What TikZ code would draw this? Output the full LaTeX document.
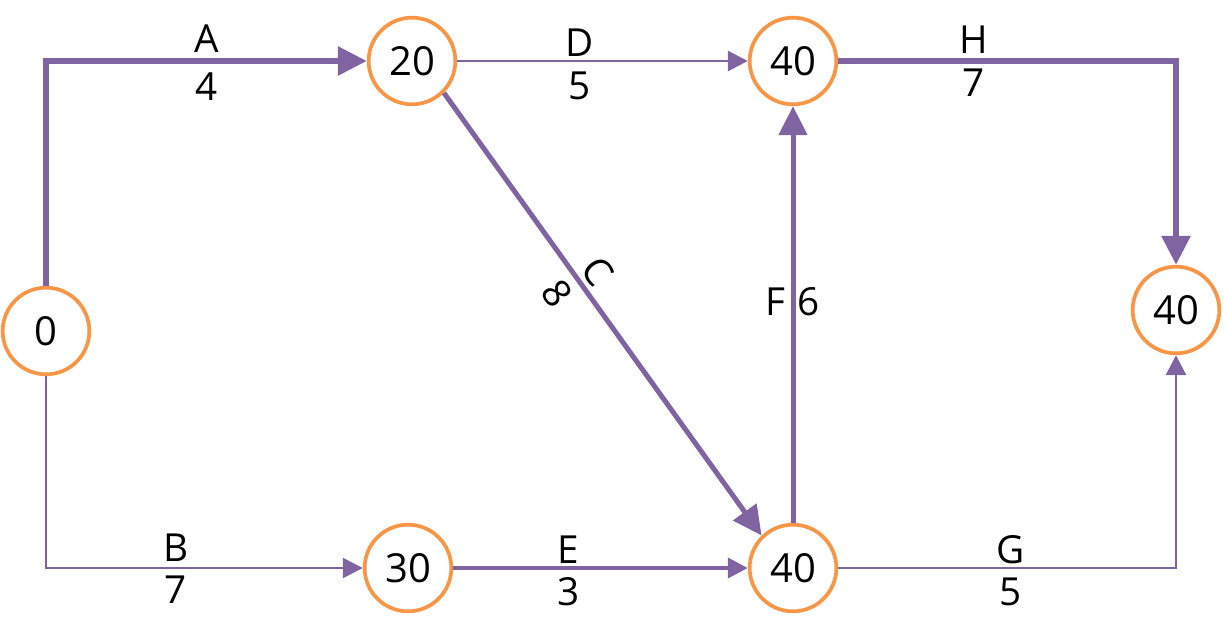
\documentclass[tikz,border=0pt]{standalone}
\usepackage{fontspec}
\setmainfont{Open Sans}
\usetikzlibrary{arrows.meta}
\definecolor{pur}{HTML}{8064A2}
\definecolor{org}{HTML}{F79646}
\begin{document}
\begin{tikzpicture}[x=0.75pt,y=-0.75pt,
  ev/.style={circle,draw=org,line width=2.8pt,fill=white,minimum size=65pt,inner sep=0pt,font=\fontsize{30}{35}\selectfont},
  lbl/.style={font=\fontsize{29}{34}\selectfont,inner sep=0pt},
  bigtip/.style={-{Triangle[length=21.75pt,width=21pt]}},
  smalltip/.style={-{Triangle[length=15pt,width=15pt]}},
  crit/.style={draw=pur,line width=4.5pt,bigtip},
  heavy/.style={draw=pur,line width=3.75pt,bigtip},
  medium/.style={draw=pur,line width=2.8pt,smalltip},
  thin/.style={draw=pur,line width=2.2pt,smalltip},
  hair/.style={draw=pur,line width=1.8pt,smalltip},
]
\useasboundingbox (0,0) rectangle (1225,635);

\node[ev] (s) at (46,331) {0};
\node[ev] (b) at (412,61) {20};
\node[ev] (d) at (793,61) {40};
\node[ev] (e) at (1176,310) {40};
\node[ev] (c) at (408,568) {30};
\node[ev] (f) at (793,568) {40};

\coordinate (ca) at (s.north |- b.west);
\coordinate (ch) at (e.north |- d.east);
\coordinate (cb) at (s.south |- c.west);
\coordinate (cg) at (e.south |- f.east);

% A
\draw[crit] (s) -- (ca) -- node[lbl,yshift=16.5pt]{A} node[lbl,yshift=-19pt]{4} (b);
% D
\draw[thin] (b) -- node[pos=0.42,lbl,yshift=14pt]{D} node[pos=0.42,lbl,yshift=-19pt]{5} (d);
% H
\draw[crit] (d) -- node[pos=0.40,lbl,yshift=16pt]{H} node[pos=0.40,lbl,yshift=-16.5pt]{7} (ch) -- (e);
% B
\draw[hair] (s) -- (cb) -- node[pos=0.41,lbl,yshift=15pt]{B} node[pos=0.41,lbl,yshift=-16.5pt]{7} (c);
% E
\draw[medium] (c) -- node[pos=0.39,lbl,yshift=14pt]{E} node[pos=0.39,lbl,yshift=-18pt]{3} (f);
% G
\draw[thin] (f) -- node[pos=0.51,lbl,yshift=13.5pt]{G} node[pos=0.51,lbl,yshift=-18pt]{5} (cg) -- (e);
% C
\draw[heavy] (b.-45) -- node[pos=0.43,lbl,sloped,anchor=south,inner sep=3pt]{C} node[pos=0.42,lbl,sloped,anchor=north,inner sep=6pt]{8} (f.134);
% F
\draw[heavy] (f) -- node[pos=0.53,lbl,xshift=-13.5pt]{F} node[pos=0.53,lbl,xshift=12pt]{6} (d);
\end{tikzpicture}
\end{document}
